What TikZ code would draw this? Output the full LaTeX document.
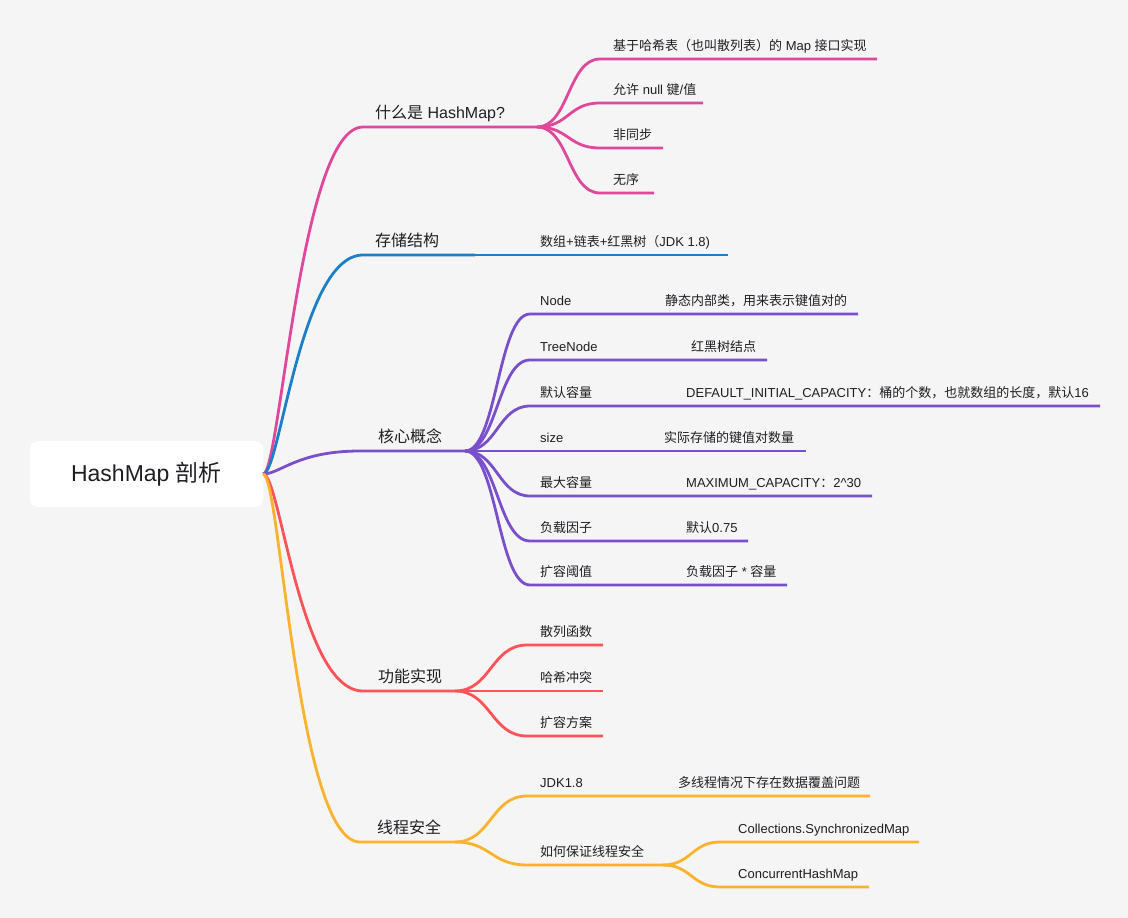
\documentclass[tikz,border=0pt]{standalone}
\usepackage{fontspec}
\setmainfont{Liberation Sans}
\newfontfamily\cjk{Noto Sans CJK SC}
\usetikzlibrary{positioning}
\definecolor{canvas}{HTML}{F5F5F5}
\definecolor{ink}{HTML}{1E1F22}
\definecolor{cpink}{HTML}{E0499B}
\definecolor{cblue}{HTML}{1B7FC9}
\definecolor{cpurple}{HTML}{7A4FCB}
\definecolor{cred}{HTML}{FF5357}
\definecolor{corange}{HTML}{FBB22E}
\tikzset{
	wire/.style={draw=#1, line width=2.8pt},
	topic/.style={anchor=base west, inner sep=0pt, text=ink, font=\fontsize{16}{19}\selectfont},
	leaf/.style={anchor=base west, inner sep=0pt, text=ink, font=\fontsize{13}{16}\selectfont},
	rootbox/.style={fill=white, rounded corners=8pt, minimum width=233pt, minimum height=66pt,
		text=ink, font=\fontsize{23}{28}\selectfont}
}

\begin{document}
\begin{tikzpicture}[x=1pt,y=-1pt]
		\fill[canvas] (0,0) rectangle (1128,918);
		\useasboundingbox (0,0) rectangle (1128,918);

		\node[rootbox] (root) at (146.5,474) {HashMap {\cjk 剖析}};

		% main branches: start of the underline and the junction
		\coordinate (what) at (363,127);   \coordinate (whatJ) at (537,127);
		\coordinate (store) at (363,255);  \coordinate (storeJ) at (475,255);
		\coordinate (core) at (360,451);   \coordinate (coreJ) at (465,451);
		\coordinate (func) at (363,691);   \coordinate (funcJ) at (455,691);
		\coordinate (safe) at (360,842);   \coordinate (safeJ) at (455,842);

		\draw[wire=cpink] (root.east) .. controls +(17,0) and +(-63,0) .. (what) -- (whatJ);
		\draw[wire=cblue] (root.east) .. controls +(17,0) and +(-63,0) .. (store) -- (storeJ);
		\draw[wire=cpurple] (root.east) .. controls +(17,0) and +(-63,0) .. (core) -- (coreJ);
		\draw[wire=cred] (root.east) .. controls +(17,0) and +(-63,0) .. (func) -- (funcJ);
		\draw[wire=corange] (root.east) .. controls +(17,0) and +(-63,0) .. (safe) -- (safeJ);

		\node[topic] (whatT) at (375,118) {{\cjk 什么是} HashMap?};
		\node[topic] (storeT) at (375,246) {\cjk 存储结构};
		\node[topic] (coreT) at (378,442) {\cjk 核心概念};
		\node[topic] (funcT) at (378,682) {\cjk 功能实现};
		\node[topic] (safeT) at (377,833) {\cjk 线程安全};

		% what is it
		\foreach \n/\y/\e in {1/59/877, 2/103/703, 3/148/663, 4/193/654} {
			\coordinate (w\n) at (600,\y);
			\coordinate (w\n e) at (\e,\y);
			\draw[wire=cpink] (whatJ) .. controls +(32,0) and +(-32,0) .. (w\n) -- (w\n e);
		}
		\node[leaf] (w1T) at (613,50) {{\cjk 基于哈希表（也叫散列表）的} Map {\cjk 接口实现}};
		\node[leaf] (w2T) at (613,94) {{\cjk 允许} null {\cjk 键}/{\cjk 值}};
		\node[leaf] (w3T) at (613,139) {\cjk 非同步};
		\node[leaf] (w4T) at (613,184) {\cjk 无序};

		% storage
		\coordinate (storeE) at (728,255);
		\draw[wire=cblue] (storeJ) -- (storeE);
		\node[leaf] (s1T) at (540,246) {{\cjk 数组}+{\cjk 链表}+{\cjk 红黑树（}JDK 1.8)};

		% core concepts
		\foreach \n/\y/\e in {1/314/858, 2/360/767, 3/406/1100, 4/451/806, 5/496/872, 6/541/748, 7/585/787} {
			\coordinate (k\n) at (530,\y);
			\coordinate (k\n e) at (\e,\y);
			\draw[wire=cpurple] (coreJ) .. controls +(32,0) and +(-32,0) .. (k\n) -- (k\n e);
		}
		\node[leaf] (k1T) at (540,305) {Node};
		\node[leaf] (k2T) at (540,351) {TreeNode};
		\node[leaf] (k3T) at (540,397) {\cjk 默认容量};
		\node[leaf] (k4T) at (540,442) {size};
		\node[leaf] (k5T) at (540,487) {\cjk 最大容量};
		\node[leaf] (k6T) at (540,532) {\cjk 负载因子};
		\node[leaf] (k7T) at (540,576) {\cjk 扩容阈值};
		\node[leaf] (k1V) at (665,305) {\cjk 静态内部类，用来表示键值对的};
		\node[leaf] (k2V) at (691,351) {\cjk 红黑树结点};
		\node[leaf] (k3V) at (686,397) {DEFAULT\_INITIAL\_CAPACITY{\cjk ：桶的个数，也就数组的长度，默认}16};
		\node[leaf] (k4V) at (664,442) {\cjk 实际存储的键值对数量};
		\node[leaf] (k5V) at (686,487) {MAXIMUM\_CAPACITY{\cjk ：}2\textasciicircum30};
		\node[leaf] (k6V) at (686,532) {{\cjk 默认}0.75};
		\node[leaf] (k7V) at (686,576) {{\cjk 负载因子} * {\cjk 容量}};

		% implementation
		\foreach \n/\y in {1/645, 2/691, 3/736} {
			\coordinate (f\n) at (527,\y);
			\coordinate (f\n e) at (603,\y);
			\draw[wire=cred] (funcJ) .. controls +(36,0) and +(-36,0) .. (f\n) -- (f\n e);
		}
		\node[leaf] (f1T) at (540,636) {\cjk 散列函数};
		\node[leaf] (f2T) at (540,682) {\cjk 哈希冲突};
		\node[leaf] (f3T) at (540,727) {\cjk 扩容方案};

		% thread safety
		\coordinate (t1) at (527,796);  \coordinate (t1e) at (870,796);
		\coordinate (t2) at (527,865);  \coordinate (t2J) at (663,865);
		\draw[wire=corange] (safeJ) .. controls +(36,0) and +(-36,0) .. (t1) -- (t1e);
		\draw[wire=corange] (safeJ) .. controls +(36,0) and +(-36,0) .. (t2) -- (t2J);
		\coordinate (g1) at (720,842);  \coordinate (g1e) at (919,842);
		\coordinate (g2) at (720,887);  \coordinate (g2e) at (869,887);
		\draw[wire=corange] (t2J) .. controls +(28,0) and +(-28,0) .. (g1) -- (g1e);
		\draw[wire=corange] (t2J) .. controls +(28,0) and +(-28,0) .. (g2) -- (g2e);

		\node[leaf] (t1T) at (540,787) {JDK1.8};
		\node[leaf] (t1V) at (678,787) {\cjk 多线程情况下存在数据覆盖问题};
		\node[leaf] (t2T) at (540,856) {\cjk 如何保证线程安全};
		\node[leaf] (g1T) at (738,833) {Collections.SynchronizedMap};
		\node[leaf] (g2T) at (738,878) {ConcurrentHashMap};

	\end{tikzpicture}
\end{document}
